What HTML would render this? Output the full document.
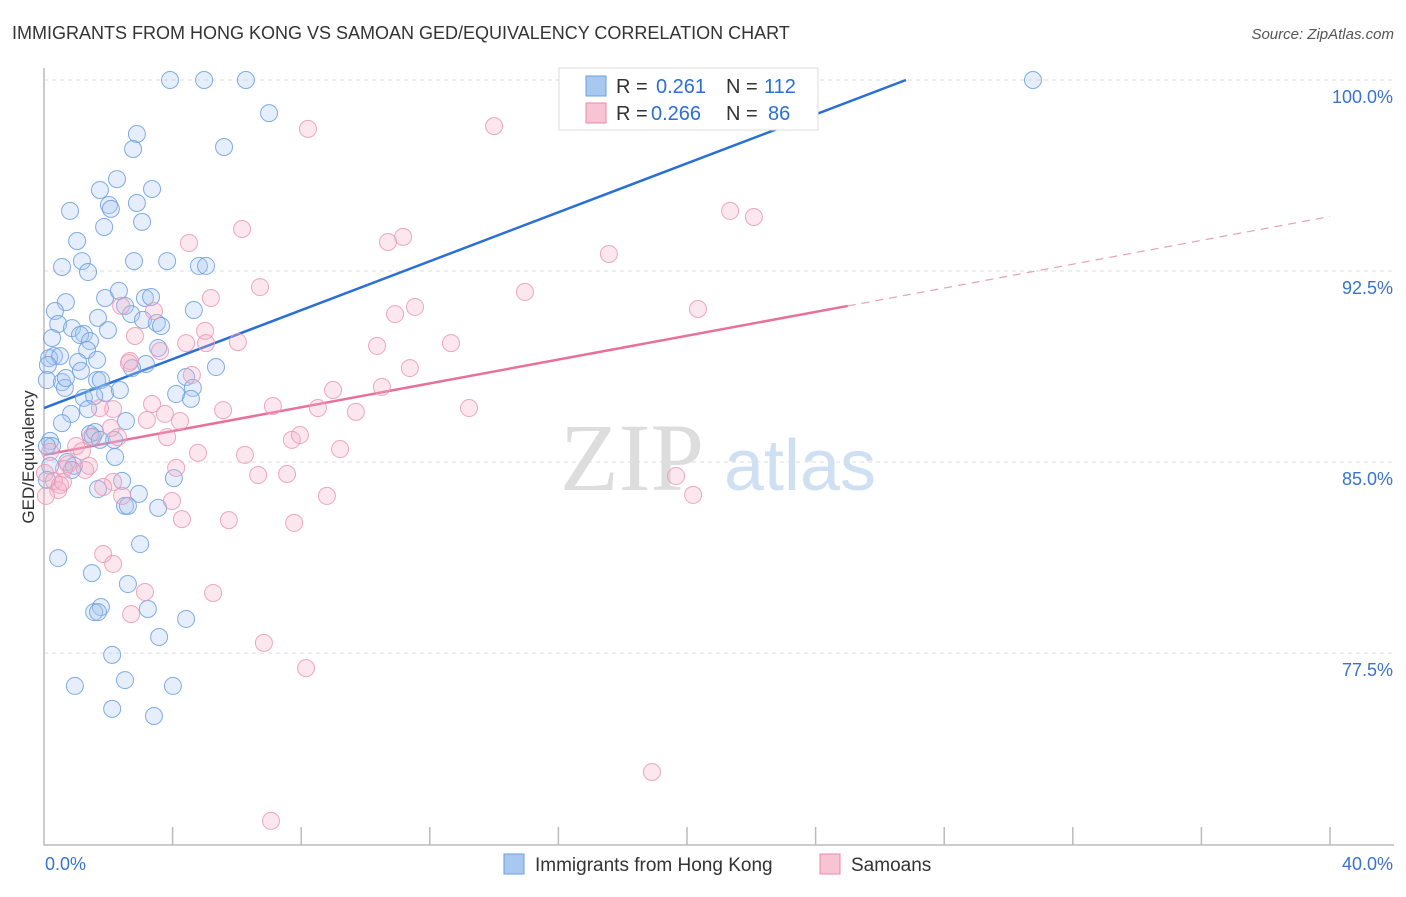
<!DOCTYPE html>
<html><head><meta charset="utf-8"><style>
body{margin:0;background:#fff;font-family:"Liberation Sans",sans-serif;}
</style></head><body>
<svg id="chart" width="1406" height="892" xmlns="http://www.w3.org/2000/svg" font-family="Liberation Sans, sans-serif">
<text x="12" y="39" font-size="18" fill="#333">IMMIGRANTS FROM HONG KONG VS SAMOAN GED/EQUIVALENCY CORRELATION CHART</text>
<text x="1394" y="39" font-size="15" fill="#555" text-anchor="end" font-style="italic">Source: ZipAtlas.com</text>
<g><text x="632" y="490" font-size="96" fill="#ddd" font-family="Liberation Serif, serif" text-anchor="middle">ZIP</text><text x="800" y="490" font-size="72" fill="#cfe0f3" text-anchor="middle">atlas</text></g>
<g id="grid"></g><g id="axes"></g><g id="lines"></g><g id="pts"></g>
<text transform="translate(34,457) rotate(-90)" font-size="17" fill="#333" text-anchor="middle">GED/Equivalency</text>
<g>
<rect x="559" y="68" width="259" height="62" fill="#fff" stroke="#ddd"/>
<rect x="586" y="76" width="20" height="20" fill="#a8c8f0" stroke="#6a9fe0"/>
<rect x="586" y="103" width="20" height="20" fill="#f8c4d4" stroke="#e88aa8"/>
<text x="616" y="93" font-size="20" fill="#333">R =</text>
<text x="656" y="93" font-size="20" fill="#2a6fd6">0.261</text>
<text x="726" y="93" font-size="20" fill="#333">N =</text>
<text x="764" y="93" font-size="20" fill="#2a6fd6">112</text>
<text x="616" y="120" font-size="20" fill="#333">R =</text>
<text x="651" y="120" font-size="20" fill="#2a6fd6">0.266</text>
<text x="726" y="120" font-size="20" fill="#333">N =</text>
<text x="768" y="120" font-size="20" fill="#2a6fd6">86</text>
</g>
<g>
<rect x="504" y="854" width="20" height="20" fill="#a8c8f0" stroke="#6a9fe0"/>
<text x="535" y="871" font-size="19" fill="#333">Immigrants from Hong Kong</text>
<rect x="820" y="854" width="20" height="20" fill="#f8c4d4" stroke="#e88aa8"/>
<text x="851" y="871" font-size="19" fill="#333">Samoans</text>
</g>
</svg>
<script>
const yTicks=[100,92.5,85,77.5];
const yTickLabels=["100.0%","92.5%","85.0%","77.5%"];
const xTickLabels=["0.0%","40.0%"];
const blueX=[3.92,4.98,6.28,30.76,7.0,2.89,2.77,5.60,2.27,3.36,1.74,2.02,2.08,0.81,2.89,3.05,1.87,1.03,0.56,1.18,1.37,2.80,3.83,4.82,5.04,0.68,1.90,2.33,3.14,3.33,2.52,0.34,4.66,2.71,0.44,0.87,1.68,3.08,3.51,3.64,1.24,1.12,1.99,0.25,1.43,1.34,3.55,0.31,0.16,0.50,1.06,1.65,3.17,2.74,5.35,0.12,1.15,0.09,0.56,0.65,1.65,1.77,4.42,1.90,2.36,4.63,1.24,1.56,4.11,4.57,0.84,1.37,0.56,2.55,1.43,1.52,0.19,0.25,2.18,2.21,0.72,0.93,0.87,4.04,2.43,1.68,2.95,2.52,2.61,3.55,2.99,0.44,1.49,2.61,1.77,1.56,1.68,3.23,4.42,3.58,2.12,2.52,0.96,4.01,2.12,3.42,0.09,0.19,0.09,1.59,1.74,0.68];
const blueY=[100,100,100,100,98.70,97.88,97.29,97.37,96.11,95.72,95.68,95.09,94.94,94.86,95.17,94.43,94.23,93.68,92.66,92.89,92.46,92.89,92.89,92.70,92.70,91.28,91.44,91.72,91.44,91.48,91.13,90.93,90.97,90.81,90.42,90.26,90.66,90.58,90.46,90.34,90.03,89.99,90.18,89.87,89.75,89.40,89.48,89.16,89.08,89.16,88.93,89.01,88.85,88.69,88.73,88.81,88.58,88.22,88.14,87.91,88.22,88.22,88.34,87.71,87.83,87.91,87.52,87.59,87.67,87.48,86.89,87.08,86.53,86.61,86.10,86.0,85.83,85.63,85.87,85.20,85.0,84.85,84.69,84.37,84.26,83.94,83.75,83.28,83.28,83.2,81.78,81.23,80.64,80.21,79.31,79.11,79.11,79.23,78.84,78.13,77.43,76.44,76.21,76.21,75.31,75.03,85.63,84.85,84.30,86.18,85.87,88.30];
const pinkX=[8.21,14.0,21.34,22.08,6.16,11.17,10.70,4.51,17.57,6.72,14.96,5.19,11.54,10.92,20.34,2.40,3.42,5.01,2.83,6.03,4.42,5.04,10.36,12.66,3.61,2.67,2.64,11.38,4.60,8.99,10.51,3.36,7.12,8.52,9.70,13.22,5.57,2.15,1.74,3.76,4.23,3.20,3.83,7.71,7.96,2.30,1.46,9.21,1.0,1.18,4.79,6.25,0.19,0.75,1.40,4.11,0.62,1.28,6.66,7.56,0.03,0.31,0.50,2.15,1.84,2.43,3.98,8.80,19.66,20.19,0.44,0.06,4.29,5.75,7.78,1.84,2.15,3.14,5.26,2.71,6.84,8.15,18.91,7.06,2.08,0.59];
const pinkY=[98.08,98.19,94.86,94.62,94.15,93.84,93.64,93.60,93.17,91.87,91.68,91.44,91.09,90.81,91.01,91.13,90.93,90.15,89.95,89.71,89.67,89.67,89.56,89.67,89.36,88.97,88.89,88.69,88.42,87.83,87.95,87.28,87.20,87.12,86.97,87.12,87.04,87.08,87.12,86.89,86.61,86.65,85.98,85.87,86.06,85.98,85.98,85.51,85.63,85.43,85.36,85.28,85.40,84.92,84.85,84.77,84.73,84.69,84.49,84.53,84.57,84.26,84.10,84.22,84.02,83.67,83.47,83.67,84.45,83.71,83.90,83.67,82.76,82.72,82.61,81.39,81.0,79.90,79.86,79.03,77.90,76.91,72.83,70.91,86.34,84.22];
const blueFit=[87.12,0.4804];
const pinkFit=[85.28,0.234];
const NS="http://www.w3.org/2000/svg";
const X=v=>44+v*32.15, Y=v=>80+(100-v)*25.47;
function mk(t,a,p){const e=document.createElementNS(NS,t);for(const k in a)e.setAttribute(k,a[k]);document.getElementById(p).appendChild(e);return e;}
yTicks.forEach((t,i)=>{
 const l=mk('line',{x1:44,x2:1394,y1:Y(t),y2:Y(t),stroke:'#ddd','stroke-dasharray':'4,4'},'grid');
 
 
 const tx=mk('text',{x:1393,y:Y(t)+23,'font-size':18,fill:'#3a72d0','text-anchor':'end'},'grid');
 tx.textContent=yTickLabels[i];
 
 
});
const ax=mk('path',{d:`M44 68V845H1394`,stroke:'#bbb',fill:'none','stroke-width':1.5},'axes');


for(let i=1;i<=10;i++){const t=mk('line',{x1:X(i*4),x2:X(i*4),y1:827,y2:845,stroke:'#bbb','stroke-width':1.5},'axes');
 
 }
[[0,'start',45],[40,'end',1393]].forEach((d,i)=>{const t=mk('text',{x:d[2],y:870,'font-size':18,fill:'#3a72d0','text-anchor':d[1]},'axes');t.textContent=xTickLabels[i];
 
 });
function pts(xs,ys,f,s,n){xs.forEach((x,i)=>{const c=mk('circle',{cx:X(x),cy:Y(ys[i]),r:8.5,fill:f,'fill-opacity':0.3,stroke:s,'stroke-width':1,'stroke-opacity':0.85},'pts');
 
 });}
pts(blueX,blueY,'#a8c8f0','#6a9fe0','hong-kong-point');
pts(pinkX,pinkY,'#f4b0c6','#eb98b4','samoan-point');
const bx=(100-blueFit[0])/blueFit[1];
const bl=mk('line',{x1:X(0),y1:Y(blueFit[0]),x2:X(bx),y2:Y(100),stroke:'#2a6fd6','stroke-width':2.5},'lines');


const pl=mk('line',{x1:X(0),y1:Y(pinkFit[0]),x2:X(25),y2:Y(pinkFit[0]+25*pinkFit[1]),stroke:'#e8709a','stroke-width':2.5},'lines');


const pd=mk('line',{x1:X(25),y1:Y(pinkFit[0]+25*pinkFit[1]),x2:X(40),y2:Y(pinkFit[0]+40*pinkFit[1]),stroke:'#e8a0b8','stroke-width':1.2,'stroke-dasharray':'8,6'},'lines');


</script>
</body></html>
